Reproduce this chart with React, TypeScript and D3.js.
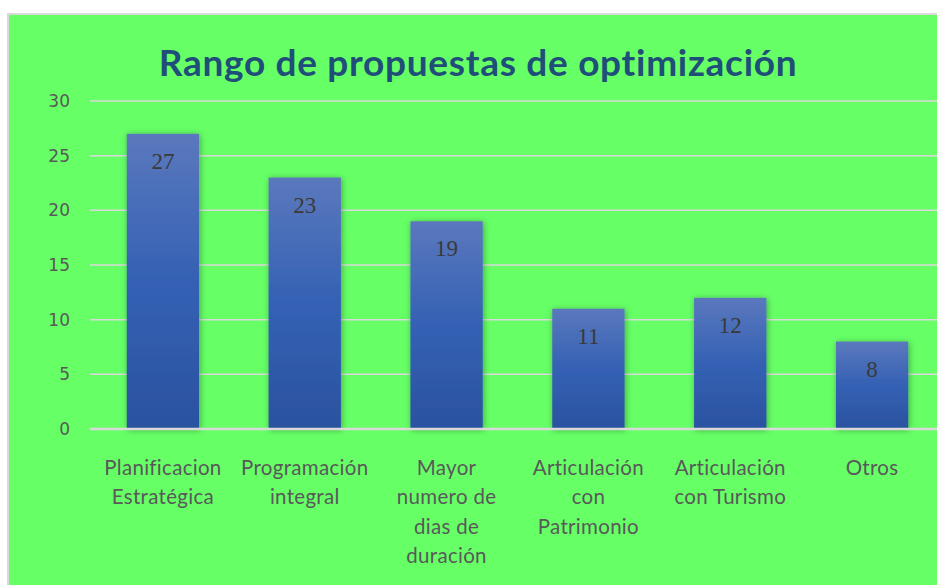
import React, { useEffect, useRef } from 'react';
import { select, scaleBand, scaleLinear } from 'd3';

const categories = [
  ['Planificacion', 'Estratégica'],
  ['Programación', 'integral'],
  ['Mayor', 'numero de', 'dias de', 'duración'],
  ['Articulación', 'con', 'Patrimonio'],
  ['Articulación', 'con Turismo'],
  ['Otros'],
];
const values = [27, 23, 19, 11, 12, 8];
const yTicks = [0, 5, 10, 15, 20, 25, 30];
const title = 'Rango de propuestas de optimización';

const W = 937;
const H = 585;

export default function App() {
  const svgRef = useRef<SVGSVGElement>(null);

  useEffect(() => {
    if (!svgRef.current) return;
    const svg = select(svgRef.current);
    svg.selectAll('*').remove();

    const defs = svg.append('defs');
    const grad = defs.append('linearGradient')
      .attr('id', 'barGrad').attr('x1', 0).attr('y1', 0).attr('x2', 0).attr('y2', 1);
    grad.append('stop').attr('offset', '0%').attr('stop-color', '#5b78bd');
    grad.append('stop').attr('offset', '50%').attr('stop-color', '#3461b4');
    grad.append('stop').attr('offset', '100%').attr('stop-color', '#2b52a0');

    const shadow = defs.append('filter').attr('id', 'shadow')
      .attr('x', '-20%').attr('y', '-10%').attr('width', '140%').attr('height', '120%');
    shadow.append('feDropShadow')
      .attr('dx', 1).attr('dy', 1).attr('stdDeviation', 3)
      .attr('flood-color', '#000').attr('flood-opacity', 0.35);

    // chart area
    svg.append('rect').attr('x', 0).attr('y', 0).attr('width', W).attr('height', H).attr('fill', '#ffffff');
    svg.append('rect')
      .attr('x', 8).attr('y', 14).attr('width', W).attr('height', H)
      .attr('fill', '#66ff66').attr('stroke', '#d9d9d9').attr('stroke-width', 2);

    const x = scaleBand<number>()
      .domain(values.map((_, i) => i))
      .range([92, 943])
      .paddingInner(0.49)
      .paddingOuter(0.245);
    const y = scaleLinear().domain([0, 30]).range([429, 101]);

    svg.append('text')
      .attr('x', 478).attr('y', 76)
      .attr('text-anchor', 'middle')
      .attr('font-family', 'Lato, "Open Sans", sans-serif')
      .attr('font-weight', 'bold')
      .attr('font-size', 37)
      .attr('letter-spacing', 0.7)
      .attr('fill', '#1f4e79')
      .text(title);

    const grid = svg.append('g');
    yTicks.filter(t => t > 0).forEach(t => {
      grid.append('line')
        .attr('x1', 90).attr('x2', W).attr('y1', y(t)).attr('y2', y(t))
        .attr('stroke', '#d9d9d9').attr('stroke-width', 1.5);
    });
    yTicks.forEach(t => {
      svg.append('text')
        .attr('x', 70).attr('y', y(t))
        .attr('dy', '0.35em')
        .attr('text-anchor', 'end')
        .attr('font-family', '"DejaVu Sans", sans-serif')
        .attr('font-size', 17)
        .attr('fill', '#595959')
        .text(t);
    });

    svg.append('g').selectAll('rect')
      .data(values)
      .join('rect')
      .attr('x', (_, i) => x(i)!)
      .attr('y', d => y(d))
      .attr('width', x.bandwidth())
      .attr('height', d => y(0) - y(d))
      .attr('fill', 'url(#barGrad)')
      .attr('filter', 'url(#shadow)');

    svg.append('line')
      .attr('x1', 90).attr('x2', W).attr('y1', y(0)).attr('y2', y(0))
      .attr('stroke', '#d9d9d9').attr('stroke-width', 2.5);

    svg.append('g').selectAll('text')
      .data(values)
      .join('text')
      .attr('x', (_, i) => x(i)! + x.bandwidth() / 2)
      .attr('y', d => y(d) + 35)
      .attr('text-anchor', 'middle')
      .attr('font-family', '"Liberation Serif", serif')
      .attr('font-size', 23)
      .attr('fill', '#3a3a3a')
      .text(d => d);

    const labels = svg.append('g');
    categories.forEach((lines, i) => {
      const t = labels.append('text')
        .attr('text-anchor', 'middle')
        .attr('font-family', 'Lato, "Open Sans", sans-serif')
        .attr('font-size', 20.5)
        .attr('letter-spacing', 0.3)
        .attr('fill', '#595959');
      lines.forEach((ln, j) => {
        t.append('tspan')
          .attr('x', x(i)! + x.bandwidth() / 2)
          .attr('y', 475 + j * 29.3)
          .text(ln);
      });
    });
  }, []);

  return (
    <svg ref={svgRef} width={W} height={H}
      style={{ position: 'absolute', left: 0, top: 0, display: 'block' }} />
  );
}
